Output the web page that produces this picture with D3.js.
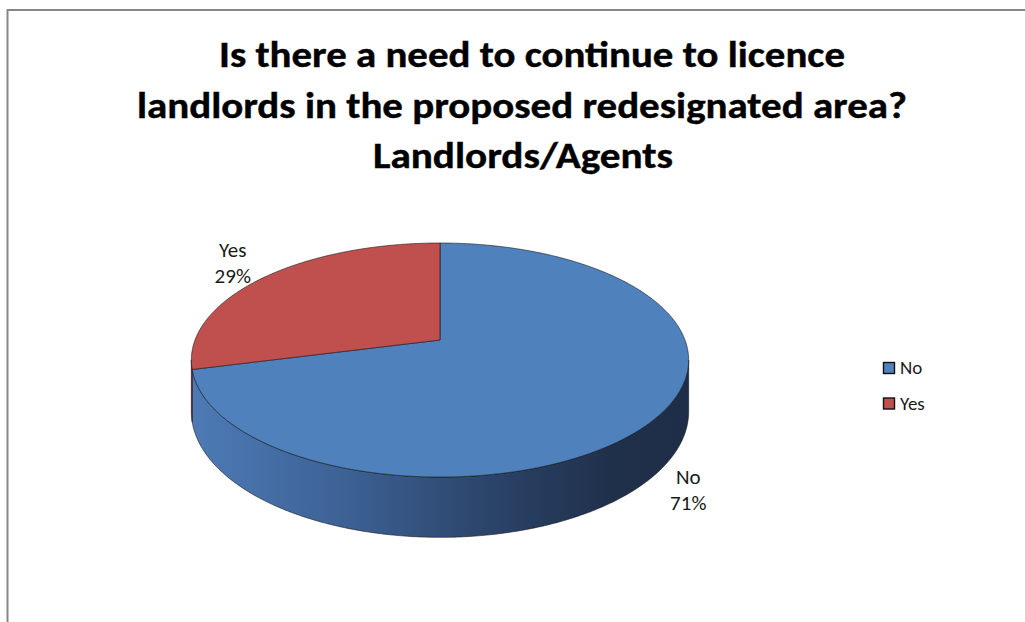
<!DOCTYPE html>
<html>
<head>
<meta charset="utf-8">
<script src="https://cdn.jsdelivr.net/npm/d3@7"></script>
<style>
  body { margin: 0; background: #fff; }
  svg { display: block; font-family: Carlito, Calibri, Lato, "Open Sans", sans-serif; }
</style>
</head>
<body>
<div id="chart"></div>
<script>
// data
const categories = ["No", "Yes"];
const values = [71, 29];
const colors = ["#4f81bd", "#c0504d"];
const titleLines = [
    "Is there a need to continue to licence",
    "landlords in the proposed redesignated area?",
    "Landlords/Agents"
];

const width = 1025, height = 622;

const svg = d3.select("#chart").append("svg")
    .attr("width", width)
    .attr("height", height);

// chart frame, runs off the right / bottom edge like the screenshot
svg.append("rect")
    .attr("x", 7.5).attr("y", 10)
    .attr("width", 1200).attr("height", 800)
    .attr("fill", "#fff")
    .attr("stroke", "#878787")
    .attr("stroke-width", 2);

// title
const titleX = [532, 522, 523];
const titleW = [626, 770, 300];
svg.selectAll("text.title")
    .data(titleLines)
    .enter().append("text")
    .attr("class", "title")
    .attr("x", (d, i) => titleX[i])
    .attr("y", (d, i) => 67 + i * 50.5)
    .attr("text-anchor", "middle")
    .attr("font-size", 36)
    .attr("font-weight", "bold")
    .attr("fill", "#000")
    .attr("stroke", "#000")
    .attr("stroke-width", 0.4)
    .attr("textLength", (d, i) => titleW[i])
    .attr("lengthAdjust", "spacingAndGlyphs")
    .text(d => d);

// 3d pie projection (simple perspective on a tilted disc)
const cx = 440, cy = 340;
const R = 245, S = 113.6, P = 0.171, H = 50;

function proj(theta, drop) {
    const x = Math.sin(theta), z = -Math.cos(theta);
    const w = 1 - P * z;
    return [cx + R * x / w, cy + (S * z + drop) / w];
}

function arcPoints(a0, a1, drop) {
    const n = Math.max(2, Math.ceil(Math.abs(a1 - a0) / 0.01));
    const pts = [];
    for (let i = 0; i <= n; i++) {
        pts.push(proj(a0 + (a1 - a0) * i / n, drop));
    }
    return pts;
}

const pie = d3.pie().sort(null).value(d => d.value);
const slices = pie(categories.map((c, i) => ({ name: c, value: values[i], color: colors[i] })));

// side gradients
const defs = svg.append("defs");
const sideStops = {
    "No": [["0%", "#4d7ab5"], ["30%", "#3d6296"], ["60%", "#2b4469"], ["85%", "#1f304b"], ["100%", "#1e2e48"]],
    "Yes": [["0%", "#a8423f"], ["100%", "#6e2a28"]]
};
categories.forEach(c => {
    const g = defs.append("linearGradient")
        .attr("id", "side-" + c)
        .attr("gradientUnits", "userSpaceOnUse")
        .attr("x1", cx - R).attr("x2", cx + R)
        .attr("y1", 0).attr("y2", 0);
    g.selectAll("stop")
        .data(sideStops[c])
        .enter().append("stop")
        .attr("offset", d => d[0])
        .attr("stop-color", d => d[1]);
});

// visible part of the rim
const visA = Math.acos(-P), visB = 2 * Math.PI - Math.acos(-P);
const line = d3.line();

slices.forEach(s => {
    const b0 = Math.max(s.startAngle, visA), b1 = Math.min(s.endAngle, visB);
    if (b1 <= b0) return;
    const top = arcPoints(b0, b1, 0);
    const bottom = arcPoints(b1, b0, H);
    svg.append("path")
        .attr("d", line(top.concat(bottom)) + "Z")
        .attr("fill", `url(#side-${s.data.name})`)
        .attr("stroke", "#111")
        .attr("stroke-opacity", 0.7)
        .attr("stroke-width", 0.8)
        .attr("stroke-linejoin", "round");
});

slices.forEach(s => {
    const pts = [[cx, cy]].concat(arcPoints(s.startAngle, s.endAngle, 0));
    svg.append("path")
        .attr("d", line(pts) + "Z")
        .attr("fill", s.data.color)
        .attr("stroke", "#111")
        .attr("stroke-opacity", 0.7)
        .attr("stroke-width", 0.8)
        .attr("stroke-linejoin", "round");
});

// data labels
const labelOffset = { "No": [32, 66], "Yes": [-32, -20] };
slices.forEach(s => {
    const mid = (s.startAngle + s.endAngle) / 2;
    const p = proj(mid, 0);
    const off = labelOffset[s.data.name];
    const t = svg.append("text")
        .attr("text-anchor", "middle")
        .attr("font-size", 21)
        .attr("fill", "#1a1a1a");
    const pct = Math.round(s.data.value / d3.sum(values) * 100) + "%";
    [s.data.name, pct].forEach((txt, i) => {
        t.append("tspan")
            .attr("x", p[0] + off[0])
            .attr("y", p[1] + off[1] + i * 26.5)
            .text(txt);
    });
});

// legend
const legend = svg.append("g").attr("transform", "translate(883,362)");
const items = legend.selectAll("g")
    .data(categories)
    .enter().append("g")
    .attr("transform", (d, i) => `translate(0,${i * 35.5})`);
items.append("rect")
    .attr("x", 0.5).attr("y", 0.5)
    .attr("width", 11).attr("height", 11)
    .attr("fill", (d, i) => colors[i])
    .attr("stroke", "#111")
    .attr("stroke-width", 1.4);
items.append("text")
    .attr("x", 17)
    .attr("y", 12)
    .attr("font-size", 19)
    .attr("fill", "#1a1a1a")
    .text(d => d);
</script>
</body>
</html>
